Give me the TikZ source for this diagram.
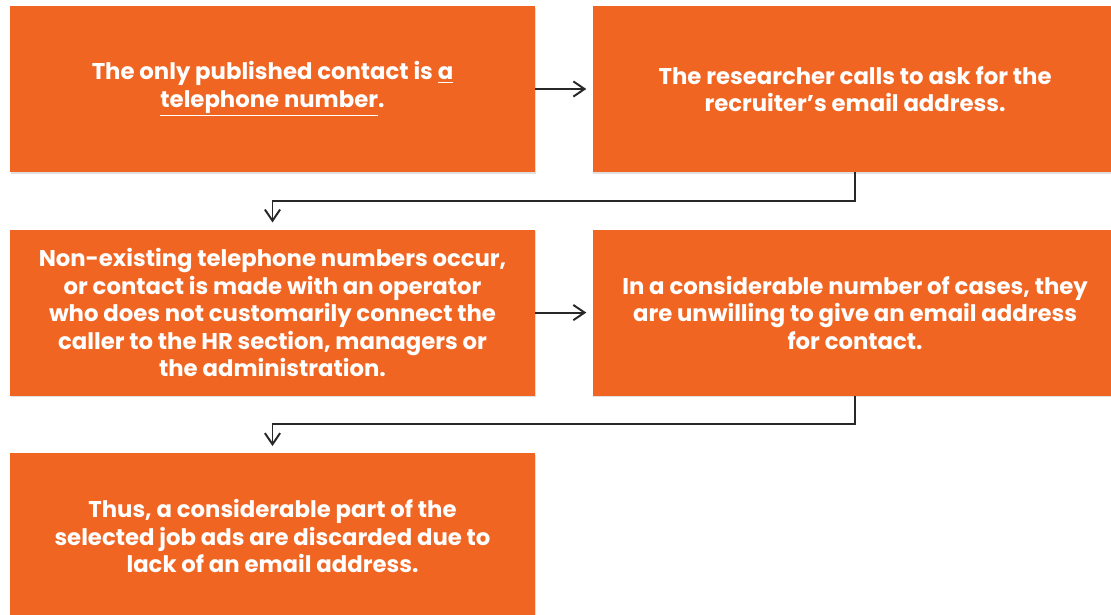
\documentclass[tikz,border=0pt]{standalone}
\usepackage{fontspec}
\setmainfont{Poppins}
\usepackage{tikz}
\usetikzlibrary{arrows.meta,positioning,shadows}

\definecolor{boxorange}{RGB}{241,101,34}
\definecolor{linegray}{RGB}{40,40,40}

\begin{document}
\begin{tikzpicture}[
    box/.style={fill=boxorange, minimum width=13.125cm, minimum height=4.15cm,
      inner sep=0pt, align=center, text=white, font=\fontsize{16.2}{19.6}\selectfont\bfseries,
      drop shadow={shadow xshift=0.4pt, shadow yshift=-1.2pt, opacity=0.25}},
    flow/.style={draw=linegray, line width=1.4pt,
      -{Straight Barb[length=2.8mm, width=3.8mm, line width=1.4pt]}},
    node distance=1.425cm
  ]
  \useasboundingbox (0,0) rectangle (27.775,-15.35);

  % Top row
  \node[box] (phone) at (6.8125,-2.225)
    {The only published contact is \underline{a}\\ \underline{telephone number}.};
  \node[box, right=of phone] (calls)
    {The researcher calls to ask for the\\ recruiter's email address.};

  % Middle row
  \node[box, below=of phone] (operator)
    {Non-existing telephone numbers occur,\\ or contact is made with an operator\\
     who does not customarily connect the\\ caller to the HR section, managers or\\
     the administration.};
  \node[box, right=of operator] (unwilling)
    {In a considerable number of cases, they\\ are unwilling to give an email address\\
     for contact.};

  % Bottom row
  \node[box, below=of operator] (discard)
    {Thus, a considerable part of the\\ selected job ads are discarded due to\\
     lack of an email address.};

  % Connectors
  \draw[flow, shorten >=0.15cm] (phone) -- (calls);
  \draw[flow, shorten >=0.15cm] (operator) -- (unwilling);
  \draw[flow, shorten >=0.17cm] (calls.south) -- ++(0,-0.71) -| (operator.north);
  \draw[flow, shorten >=0.17cm] (unwilling.south) -- ++(0,-0.71) -| (discard.north);
\end{tikzpicture}
\end{document}
